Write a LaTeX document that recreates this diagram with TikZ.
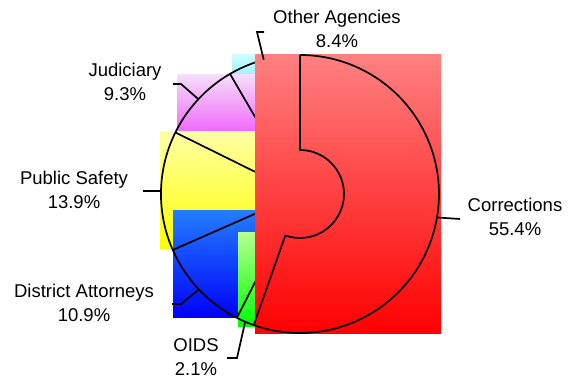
\documentclass[tikz,border=0pt]{standalone}
\usepackage{fontspec}
\setmainfont{Liberation Sans}
\usetikzlibrary{calc}
\definecolor{cyanTop}{RGB}{205,255,255}
\definecolor{cyanBot}{RGB}{160,240,255}
\definecolor{magTop}{RGB}{244,220,250}
\definecolor{magBot}{RGB}{240,100,252}
\definecolor{yelTop}{RGB}{255,255,165}
\definecolor{yelBot}{RGB}{255,255,0}
\definecolor{bluTop}{RGB}{35,125,255}
\definecolor{bluBot}{RGB}{0,0,250}
\definecolor{grnTop}{RGB}{180,255,145}
\definecolor{grnBot}{RGB}{0,255,0}
\definecolor{redTop}{RGB}{255,128,128}
\definecolor{redBot}{RGB}{255,0,0}
\tikzset{
     slice label/.style={align=center, inner sep=0pt, font=\fontsize{18.5}{24.5}\selectfont},
      leader/.style   = {black, line width=1.7pt, line join=miter},
      pie edge/.style = {black, line width=1.7pt, line join=round},
      box/.style args={#1 to #2}{top color=#1, bottom color=#2, draw=none},
    }

\begin{document}
\begin{tikzpicture}[x=1pt,y=1pt]
        \useasboundingbox (0,0) rectangle (573,379);
        \coordinate (ctr) at (300,185);
        % colour boxes behind the slices
        \shade[box=cyanTop to cyanBot] (232,324) rectangle (300,304);
        \shade[box=magTop to magBot]   (177,304) rectangle (300,245);
        \shade[box=yelTop to yelBot]   (160,247) rectangle (300,130);
        \shade[box=bluTop to bluBot]   (173,168) rectangle (300,61);
        \shade[box=grnTop to grnBot]   (238,146) rectangle (300,52);
        % left part of the pie
        \draw[pie edge] ($(ctr)+(-109.44:139)$) arc[start angle=-109.44, end angle=-270, radius=139];
        \foreach \a in {-117, -156.24, 153.72, 120.24}
          \draw[pie edge] (ctr) -- ($(ctr)+(\a:139)$);
        \shade[box=redTop to redBot] (255,324) rectangle (441,45);
        \draw[pie edge] ($(ctr)+(90:139)$) -- ($(ctr)+(90:44)$)
          arc[start angle=90, end angle=-109.44, radius=44]
          -- ($(ctr)+(-109.44:139)$)
          arc[start angle=-109.44, end angle=90, radius=139];
        % labels
        \node [slice label] (oth) at (337,350) {Other Agencies\\8.4\%};
        \node [slice label] (jud) at (125,297) {Judiciary\\9.3\%};
        \node [slice label] (pub) at (74,189)  {Public Safety\\13.9\%};
        \node [slice label] (dis) at (84,76)   {District Attorneys\\10.9\%};
        \node [slice label] (oid) at (196,22)  {OIDS\\2.1\%};
        \node [slice label] (cor) at (515,162) {Corrections\\55.4\%};
        % leader lines
        \coordinate (oth-pt) at ($(ctr)+(105.12:139)$);
        \coordinate (jud-pt) at ($(ctr)+(136.98:139)$);
        \coordinate (pub-pt) at ($(ctr)+(178.74:139)$);
        \coordinate (dis-pt) at ($(ctr)+(-136.62:139)$);
        \coordinate (oid-pt) at ($(ctr)+(-113.22:139)$);
        \coordinate (cor-pt) at ($(ctr)+(-9.72:139)$);
        \coordinate (oth-end) at (264,347);
        \coordinate (jud-end) at (173,295);
        \coordinate (pub-end) at (143,188);
        \coordinate (dis-end) at (172,75);
        \coordinate (oid-end) at (227,21);
        \coordinate (cor-end) at (460,160);
        \draw[leader] (oth-end) -- (257,347) -- (oth-pt);
        \draw[leader] (jud-end) -- (181,295) -- (jud-pt);
        \draw[leader] (pub-end) -- (pub-pt);
        \draw[leader] (dis-end) -- (181,75) -- (dis-pt);
        \draw[leader] (oid-end) -- (237,21) -- (oid-pt);
        \draw[leader] (cor-end) -- (cor-pt);
    \end{tikzpicture}
\end{document}
